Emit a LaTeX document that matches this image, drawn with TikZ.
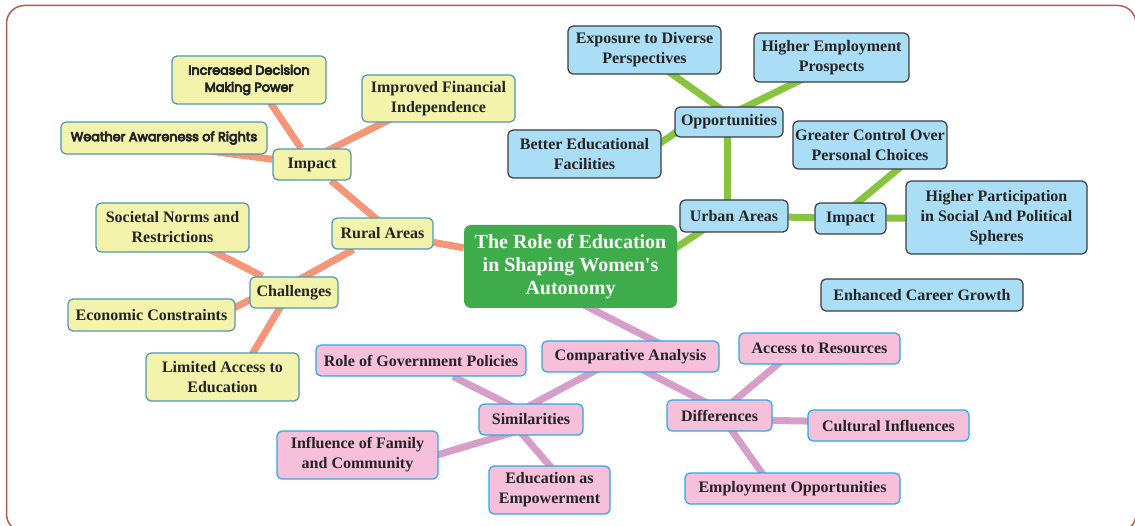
\documentclass[tikz,border=0pt]{standalone}
\usepackage{fontspec}
\setmainfont{Liberation Serif}
\newfontfamily\popp[FakeBold=6]{Poppins}
\usetikzlibrary{calc}
\pgfdeclarelayer{bg}
\pgfsetlayers{bg,main}
\definecolor{txt}{RGB}{35,35,35}
\definecolor{yfill}{RGB}{243,243,172}
\definecolor{ybord}{RGB}{80,150,180}
\definecolor{bfill}{RGB}{170,222,246}
\definecolor{bbord}{RGB}{60,60,60}
\definecolor{pfill}{RGB}{246,192,218}
\definecolor{pbord}{RGB}{40,170,230}
\definecolor{cfill}{RGB}{62,172,74}
\definecolor{rline}{RGB}{244,150,120}
\definecolor{gline}{RGB}{135,196,64}
\definecolor{pline}{RGB}{214,158,200}
\definecolor{frame}{RGB}{182,92,72}
\tikzset{
  box/.style={rounded corners=5pt, line width=1.2pt, text=txt, align=center, inner sep=0pt,
    font=\fontsize{16}{20}\selectfont\bfseries},
  ynode/.style={box, draw=ybord, fill=yfill},
  bnode/.style={box, draw=bbord, fill=bfill},
  pnode/.style={box, draw=pbord, fill=pfill},
  popf/.style={font=\popp\fontsize{12.8}{17}\selectfont},
  cnode/.style={rounded corners=7pt, fill=cfill, text=white, align=center, inner sep=0pt,
    font=\fontsize{20}{23}\selectfont\bfseries},
  rl/.style={draw=rline, line width=7pt},
  gl/.style={draw=gline, line width=7pt},
  pl/.style={draw=pline, line width=7pt},
}
\begin{document}
\begin{tikzpicture}[x=1pt,y=-1pt]
\useasboundingbox (0,0) rectangle (1135,526);
\begin{scope}
\clip (0,0) rectangle (1135,526);
\draw[frame, line width=1.5pt, rounded corners=18pt] (6.5,5.5) rectangle (1136,532);
\end{scope}
% central
\node[cnode, minimum width=213, minimum height=83] (cen) at (570.5,266.5) {The Role of Education\\in Shaping Women\textquotesingle s\\Autonomy};
% rural
\node[ynode, popf, minimum width=154, minimum height=48] (idm) at (249,80) {Increased Decision\\Making Power};
\node[ynode, popf, minimum width=206, minimum height=32] (war) at (164,138) {Weather Awareness of Rights};
\node[ynode, minimum width=78, minimum height=31] (imr) at (312,164.5) {Impact};
\node[ynode, minimum width=153, minimum height=47] (ifi) at (438.5,98.5) {Improved Financial\\Independence};
\node[ynode, minimum width=101, minimum height=31] (rur) at (382.5,233.5) {Rural Areas};
\node[ynode, minimum width=153, minimum height=49] (snr) at (172.5,227.5) {Societal Norms and\\Restrictions};
\node[ynode, minimum width=88, minimum height=31] (cha) at (294,292.5) {Challenges};
\node[ynode, minimum width=167, minimum height=32] (eco) at (151.5,315) {Economic Constraints};
\node[ynode, minimum width=153, minimum height=48] (lim) at (222.5,377) {Limited Access to\\Education};
% urban
\node[bnode, minimum width=153, minimum height=48] (exp) at (644.5,50) {Exposure to Diverse\\Perspectives};
\node[bnode, minimum width=155, minimum height=49] (hep) at (831.5,57.5) {Higher Employment\\Prospects};
\node[bnode, minimum width=108, minimum height=30] (opp) at (729,122) {Opportunities};
\node[bnode, minimum width=153, minimum height=48] (bef) at (584.5,154) {Better Educational\\Facilities};
\node[bnode, minimum width=154, minimum height=48] (gco) at (870,145) {Greater Control Over\\Personal Choices};
\node[bnode, minimum width=108, minimum height=32] (urb) at (734,216) {Urban Areas};
\node[bnode, minimum width=71, minimum height=31] (imu) at (850.5,218.5) {Impact};
\node[bnode, minimum width=181, minimum height=73] (hps) at (996.5,217.5) {Higher Participation\\in Social And Political\\Spheres};
\node[bnode, minimum width=202, minimum height=32] (ecg) at (922,295) {Enhanced Career Growth};
% comparative
\node[pnode, minimum width=210, minimum height=31] (rgp) at (421,360.5) {Role of Government Policies};
\node[pnode, minimum width=177, minimum height=31] (cmp) at (630.5,356.5) {Comparative Analysis};
\node[pnode, minimum width=104, minimum height=31] (sim) at (531,419.5) {Similarities};
\node[pnode, minimum width=161, minimum height=48] (ifc) at (357.5,455) {Influence of Family\\and Community};
\node[pnode, minimum width=121, minimum height=48] (eae) at (549.5,490) {Education as\\Empowerment};
\node[pnode, minimum width=161, minimum height=31] (acr) at (819.5,348.5) {Access to Resources};
\node[pnode, minimum width=105, minimum height=31] (dif) at (719.5,415.5) {Differences};
\node[pnode, minimum width=161, minimum height=31] (cul) at (888.5,425.5) {Cultural Influences};
\node[pnode, minimum width=215, minimum height=31] (emp) at (792.5,488.5) {Employment Opportunities};
\begin{pgfonlayer}{bg}
% rural connectors
\draw[rl] (cen) -- (rur);
\draw[rl] (imr) -- ($(rur)+(5,-5)$);
\draw[rl] ($(cha)+(0,-10)$) -- (rur);
\draw[rl] ($(idm)+(6,0)$) -- (imr);
\draw[rl] ($(war)+(0,7)$) -- (imr);
\draw[rl] ($(imr)+(0,-6)$) -- ($(ifi)+(0,-3.5)$);
\draw[rl] ($(snr)+(0,3)$) -- (cha);
\draw[rl] ($(eco)+(60,4)$) -- ($(cha)+(-25,-2)$);
\draw[rl] ($(lim)+(16,0)$) -- ($(cha)+(-5,0)$);
% urban connectors
\draw[gl] ($(cen)+(70,4.5)$) -- ($(urb)+(-19,6)$);
\draw[gl] ($(opp)+(-2,0)$) -- ($(urb)+(-7,0)$);
\draw[gl] (urb) -- (imu);
\draw[gl] ($(exp)+(-6,0)$) -- ($(opp)+(10,0)$);
\draw[gl] ($(opp)+(-14,0)$) -- ($(hep)+(15,0)$);
\draw[gl] ($(bef)+(55,3)$) -- ($(opp)+(-39,1)$);
\draw[gl] ($(imu)+(-12,0)$) -- ($(gco)+(57,0)$);
\draw[gl] (imu) -- (hps);
% comparative connectors
\draw[pl] ($(cen)+(-62,0)$) -- ($(cmp)+(54.5,0)$);
\draw[pl] ($(sim)+(-27,0)$) -- ($(cmp)+(-9,0)$);
\draw[pl] ($(cmp)+(-13.5,0)$) -- ($(dif)+(11.5,0)$);
\draw[pl] (rgp) -- ($(sim)+(7.6,0)$);
\draw[pl] ($(ifc)+(42.5,11)$) -- ($(sim)+(0,7.5)$);
\draw[pl] ($(sim)+(-21.5,0)$) -- ($(eae)+(21.5,0)$);
\draw[pl] ($(dif)+(-3,0)$) -- ($(acr)+(-23,0)$);
\draw[pl] ($(dif)+(0,4)$) -- ($(cul)+(0,-3)$);
\draw[pl] ($(dif)+(1.5,0)$) -- ($(emp)+(-19.5,0)$);
\end{pgfonlayer}
\end{tikzpicture}
\end{document}
